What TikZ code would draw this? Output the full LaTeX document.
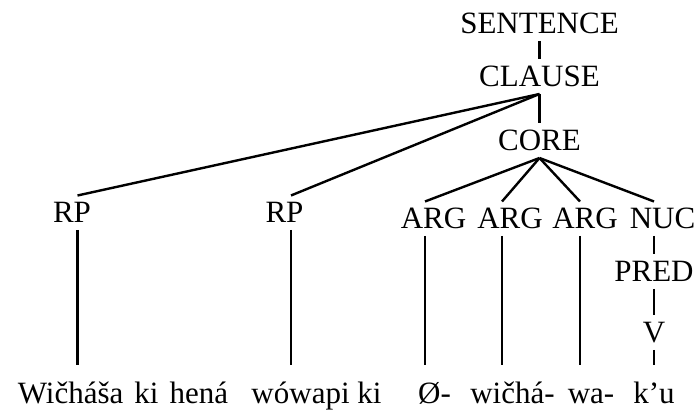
\documentclass[tikz,border=0pt]{standalone}
\usepackage{fontspec}
\setmainfont{Liberation Serif}
\tikzset{
  every node/.style={font=\fontsize{31}{37}\selectfont, inner sep=0pt,
    anchor=base, text height=20.5pt, text depth=0pt},
}
\tikzstyle{lbl}=[outer sep=7pt]
\tikzstyle{word}=[outer sep=18pt]
\tikzstyle{branch}=[line width=2.4pt]

\begin{document}
\begin{tikzpicture}[x=1pt,y=1pt]
    \useasboundingbox (0,0) rectangle (698,411);
    % tree labels
    \node[lbl] (sentence) at (539.5,377) {SENTENCE};
    \node[lbl] (clause) at (539.5,324) {CLAUSE};
    \node[lbl] (core) at (539.5,260) {CORE};
    \node[lbl] (rp1) at (72,188) {RP};
    \node[lbl] (rp2) at (284.5,188) {RP};
    \node[lbl] (arg1) at (433.5,182) {ARG};
    \node[lbl] (arg2) at (510,182) {ARG};
    \node[lbl] (arg3) at (585,182) {ARG};
    \node[lbl] (nuc) at (662.5,182) {NUC};
    \node[lbl] (pred) at (654,129) {PRED};
    \node[lbl] (v) at (654,68) {V};
    % words
    \node[word] (w1) at (123,7) {\spaceskip=11pt Wičháša ki hená};
    \node[word] (w2) at (316.5,7) {wówapi ki};
    \node[word] (w3) at (434.5,7) {Ø-};
    \node[word] (w4) at (512.5,7) {wičhá-};
    \node[word] (w5) at (591,7) {wa-};
    \node[word] (w6) at (654,7) {k’u};
    % branches
    \draw[branch] (sentence) -- (clause);
    \draw[branch] (clause) -- (core);
    \draw[branch] (clause.south) -- ([xshift=5.5pt]rp1.north);
    \draw[branch] (clause.south) -- ([xshift=6.5pt]rp2.north);
    \draw[branch] (core.south) -- ([xshift=-8.5pt]arg1.north);
    \draw[branch] (core.south) -- ([xshift=-8pt]arg2.north);
    \draw[branch] (core.south) -- ([xshift=-5pt]arg3.north);
    \draw[branch] (core.south) -- ([xshift=-8.5pt]nuc.north);
    \draw[branch] ([xshift=5.5pt]rp1.south) -- ([xshift=5.5pt]rp1.south |- w1.north);
    \draw[branch] ([xshift=6.5pt]rp2.south) -- ([xshift=6.5pt]rp2.south |- w2.north);
    \draw[branch] ([xshift=-8.5pt]arg1.south) -- ([xshift=-8.5pt]arg1.south |- w3.north);
    \draw[branch] ([xshift=-8pt]arg2.south) -- ([xshift=-8pt]arg2.south |- w4.north);
    \draw[branch] ([xshift=-5pt]arg3.south) -- ([xshift=-5pt]arg3.south |- w5.north);
    \draw[branch] (pred.north |- nuc.south) -- (pred);
    \draw[branch] (pred) -- (v);
    \draw[branch] (v) -- (w6);
\end{tikzpicture}
\end{document}
